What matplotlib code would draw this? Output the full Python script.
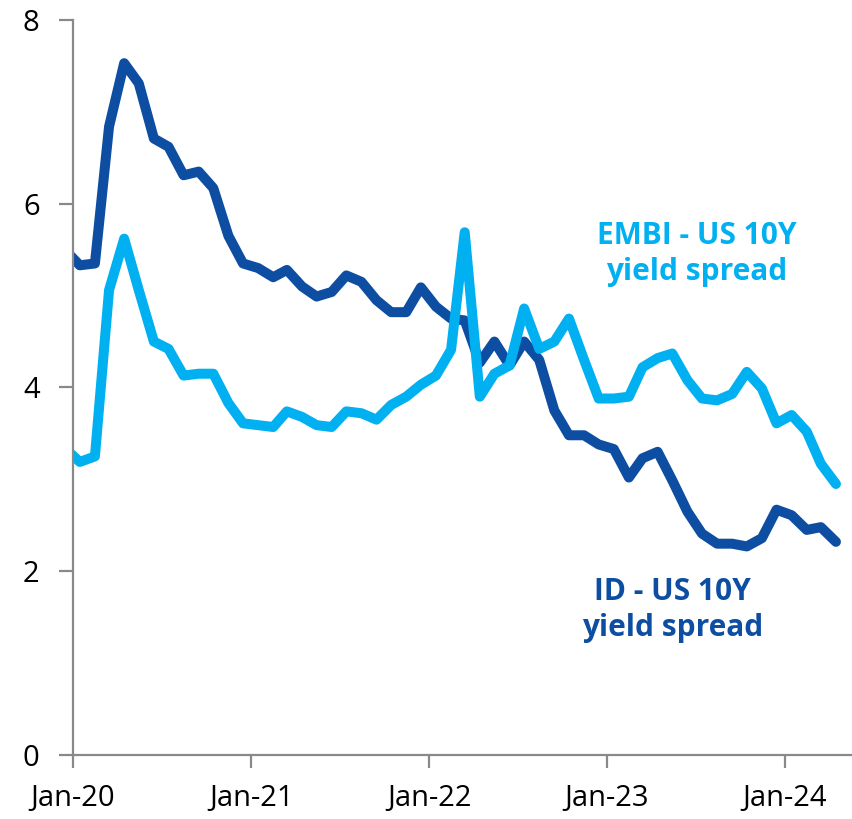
import pandas as pd
import matplotlib
matplotlib.use("Agg")
import matplotlib.pyplot as plt
import matplotlib.dates as mdates

plt.rcParams['font.family'] = ['Open Sans', 'DejaVu Sans']

# monthly observations, mid-month, Dec-19 .. Apr-24
dates = pd.date_range("2019-12-15", periods=53, freq=pd.DateOffset(months=1))

id_spread = [5.50, 5.33, 5.35, 6.84, 7.53, 7.31, 6.71, 6.62, 6.31, 6.35,
             6.17, 5.65, 5.35, 5.30, 5.20, 5.28, 5.10, 4.99, 5.04, 5.22,
             5.15, 4.95, 4.82, 4.82, 5.09, 4.88, 4.75, 4.73, 4.27, 4.50,
             4.24, 4.50, 4.30, 3.75, 3.48, 3.48, 3.38, 3.33, 3.02, 3.23,
             3.30, 2.99, 2.65, 2.41, 2.30, 2.30, 2.27, 2.36, 2.67, 2.61,
             2.45, 2.48, 2.32]

embi_spread = [3.34, 3.19, 3.25, 5.06, 5.62, 5.06, 4.50, 4.42, 4.13, 4.15,
               4.15, 3.83, 3.61, 3.59, 3.57, 3.74, 3.68, 3.59, 3.57, 3.74,
               3.72, 3.65, 3.81, 3.90, 4.03, 4.13, 4.41, 5.69, 3.90, 4.15,
               4.24, 4.86, 4.42, 4.50, 4.75, 4.30, 3.88, 3.88, 3.90, 4.22,
               4.32, 4.37, 4.08, 3.88, 3.86, 3.93, 4.17, 3.99, 3.61, 3.70,
               3.52, 3.17, 2.95]

dark = "#0D4EA2"
light = "#00B0F0"
grey = "#898989"

fig = plt.figure(figsize=(8.53, 8.19), dpi=100)
ax = fig.add_axes([73 / 853, 1 - 755 / 819, 1 - 73 / 853, (755 - 20) / 819])

ax.plot(dates, id_spread, color=dark, lw=7.2, solid_joinstyle='round',
        solid_capstyle='round')
ax.plot(dates, embi_spread, color=light, lw=7.2, solid_joinstyle='round',
        solid_capstyle='round')

ax.set_xlim(pd.Timestamp("2020-01-01"), pd.Timestamp("2024-05-20"))
ax.set_ylim(0, 8)
ax.set_yticks([0, 2, 4, 6, 8])
ax.xaxis.set_major_locator(mdates.YearLocator())
ax.xaxis.set_major_formatter(mdates.DateFormatter('%b-%y'))

for s in ['top', 'right']:
    ax.spines[s].set_visible(False)
for s in ['left', 'bottom']:
    ax.spines[s].set_color(grey)
    ax.spines[s].set_linewidth(1.6)
ax.tick_params(axis='both', colors=grey, width=1.6, labelsize=21,
               labelcolor='black')
ax.tick_params(axis='y', length=10, pad=14)
ax.tick_params(axis='x', length=9, pad=12)

ax.text(pd.Timestamp("2023-07-05"), 5.45, "EMBI - US 10Y\nyield spread",
        color=light, fontsize=21.5, fontweight='bold', ha='center', va='center',
        linespacing=1.25)
ax.text(pd.Timestamp("2023-05-15"), 1.58, "ID - US 10Y\nyield spread",
        color=dark, fontsize=21.5, fontweight='bold', ha='center', va='center',
        linespacing=1.25)

fig.savefig("out.png", dpi=100)
